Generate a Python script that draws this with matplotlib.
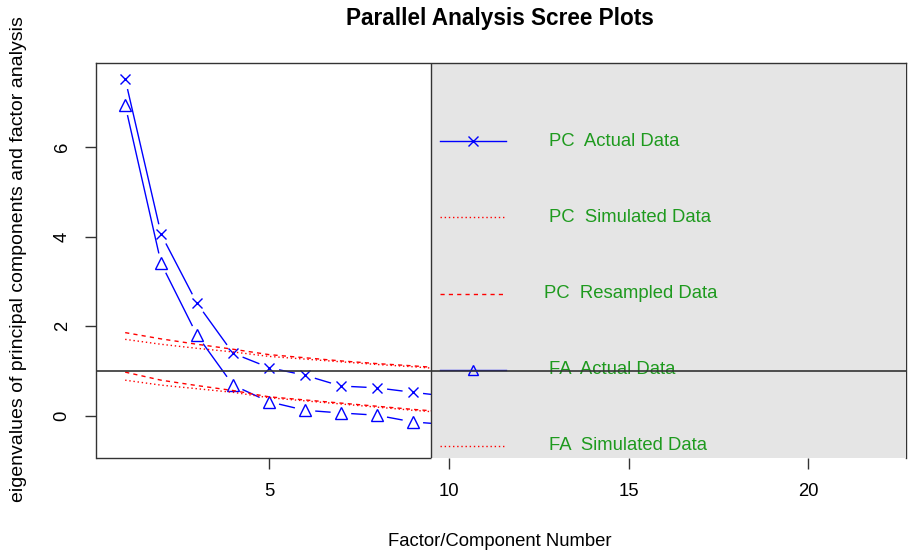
import numpy as np
import matplotlib.pyplot as plt
from matplotlib.patches import Rectangle

plt.rcParams['font.family'] = ['Liberation Sans', 'DejaVu Sans']

# eigenvalues (components 1..22)
factor_num = np.arange(1, 23)
pc_actual = [7.51, 4.05, 2.51, 1.40, 1.08, 0.91, 0.67, 0.63, 0.53, 0.44, 0.38,
             0.33, 0.29, 0.25, 0.22, 0.19, 0.17, 0.14, 0.12, 0.10, 0.07, 0.05]
pc_simulated = [1.71, 1.60, 1.51, 1.43, 1.33, 1.27, 1.21, 1.15, 1.10, 1.04, 0.99,
                0.94, 0.89, 0.84, 0.79, 0.74, 0.69, 0.64, 0.59, 0.54, 0.48, 0.41]
pc_resampled = [1.86, 1.72, 1.60, 1.49, 1.37, 1.30, 1.23, 1.17, 1.12, 1.06, 1.00,
                0.95, 0.90, 0.85, 0.80, 0.75, 0.70, 0.65, 0.60, 0.54, 0.48, 0.41]
fa_actual = [6.93, 3.40, 1.80, 0.69, 0.32, 0.13, 0.07, 0.02, -0.13, -0.19, -0.24,
             -0.28, -0.32, -0.35, -0.38, -0.41, -0.44, -0.47, -0.50, -0.53, -0.57, -0.61]
fa_simulated = [0.80, 0.69, 0.61, 0.53, 0.41, 0.34, 0.27, 0.20, 0.13, 0.07, 0.01,
                -0.04, -0.09, -0.13, -0.17, -0.21, -0.25, -0.29, -0.33, -0.37, -0.41, -0.46]
fa_resampled = [0.98, 0.80, 0.68, 0.57, 0.43, 0.36, 0.29, 0.22, 0.15, 0.09, 0.03,
                -0.02, -0.07, -0.12, -0.16, -0.20, -0.24, -0.28, -0.32, -0.36, -0.40, -0.45]

legend_labels = ["PC  Actual Data", "PC  Simulated Data", "PC  Resampled Data",
                 "FA  Actual Data", "FA  Simulated Data", "FA  Resampled Data"]

W, H = 910, 555
fig = plt.figure(figsize=(W / 100, H / 100), dpi=100)
# plot region in pixels: left 95.7, right 905.7, top 63.3, bottom 458.3
L, R, T, B = 95.7, 905.7, 63.3, 458.3
ax = fig.add_axes([L / W, 1 - B / H, (R - L) / W, (B - T) / H])
xlo, xhi = 0.18, 22.71
ylo, yhi = -0.94, 7.86
ax.set_xlim(xlo, xhi)
ax.set_ylim(ylo, yhi)
legend_left = 9.51

red = '#ff0000'
blue = '#0000ff'
green = '#1e9a1e'
frame = '#333333'
dotted = (0, (1, 2))
dashed = (0, (3, 3))


def plot_b(x, y, marker, ms, gap=11):
    """ R style type='b': points joined by lines that stop short of each point """
    pts = ax.transData.transform(np.column_stack([x, y]))
    inv = ax.transData.inverted()
    for i in range(len(pts) - 1):
        p0, p1 = pts[i], pts[i + 1]
        d = p1 - p0
        n = np.hypot(*d)
        if n <= 2 * gap:
            continue
        u = d / n
        seg = inv.transform([p0 + u * gap, p1 - u * gap])
        ax.plot(seg[:, 0], seg[:, 1], color=blue, lw=1.0, zorder=2)
    ax.plot(x, y, linestyle='none', marker=marker, ms=ms, mfc='none',
            mec=blue, mew=1.0, zorder=2)


plot_b(factor_num, pc_actual, 'x', 6.5)
plot_b(factor_num, fa_actual, '^', 8)
ax.plot(factor_num, pc_simulated, color=red, lw=1.0, ls=dotted, zorder=2)
ax.plot(factor_num, pc_resampled, color=red, lw=1.0, ls=dashed, zorder=2)
ax.plot(factor_num, fa_simulated, color=red, lw=1.0, ls=dotted, zorder=2)
ax.plot(factor_num, fa_resampled, color=red, lw=1.0, ls=dashed, zorder=2)

# legend box at top right, clipped by the plot region
ax.add_patch(Rectangle((legend_left, -5), 20, 5 + yhi, facecolor='#e5e5e5',
                       edgecolor=frame, lw=1.0, zorder=3, clip_on=True))


def px_to_ax(px, py):
    return (px - L) / (R - L), (B - py) / (B - T)


entry_y = [141, 217.5, 293.5, 370, 446, 522]
text_x = [549, 549, 544, 549, 549, 544]
styles = [('-', 'x', 6.5), (dotted, None, 0), (dashed, None, 0),
          ('-', '^', 7), (dotted, None, 0), (dashed, None, 0)]
colors = [blue, red, red, blue, red, red]
for lab, ey, tx, (ls, mk, ms), c in zip(legend_labels, entry_y, text_x, styles, colors):
    x0, y0 = px_to_ax(440, ey)
    x1, _ = px_to_ax(506, ey)
    ax.plot([x0, x1], [y0, y0], transform=ax.transAxes, color=c, lw=1.0,
            ls=ls, zorder=4, clip_on=True)
    if mk:
        xm, _ = px_to_ax(473, ey)
        ax.plot([xm], [y0], transform=ax.transAxes, marker=mk, ms=ms,
                mfc='none', mec=c, mew=1.0, zorder=4, clip_on=True)
    xt, yt = px_to_ax(tx, ey)
    ax.text(xt, yt, lab, transform=ax.transAxes, color=green, fontsize=13.3,
            ha='left', va='center', zorder=4, clip_on=True)

ax.axhline(1, color=frame, lw=1.2, zorder=5)

for s in ax.spines.values():
    s.set_color(frame)
    s.set_linewidth(1.0)
# the grey legend fill hides the bottom frame on its part of the plot
ax.spines['bottom'].set_visible(False)
ax.plot([xlo, legend_left], [ylo, ylo], color=frame, lw=1.0, zorder=6,
        clip_on=False, solid_capstyle='butt')

ax.set_xticks([5, 10, 15, 20])
ax.set_yticks([0, 2, 4, 6])
ax.tick_params(axis='both', length=8, width=1.0, color=frame,
               labelsize=13.3, pad=10)
ax.tick_params(axis='y', labelrotation=90)
for t in ax.get_yticklabels():
    t.set_va('center')

fig.text(500 / W, 1 - 18 / H, "Parallel Analysis Scree Plots", ha='center',
         va='center', fontsize=16.3, fontweight='bold')
fig.text(500 / W, 1 - 541 / H, "Factor/Component Number", ha='center',
         va='center', fontsize=13.3)
fig.text(18.5 / W, 1 - 259.5 / H, "eigenvalues of principal components and factor analysis",
         ha='center', va='center', rotation=90, fontsize=14)

fig.savefig('out.png', dpi=100)
